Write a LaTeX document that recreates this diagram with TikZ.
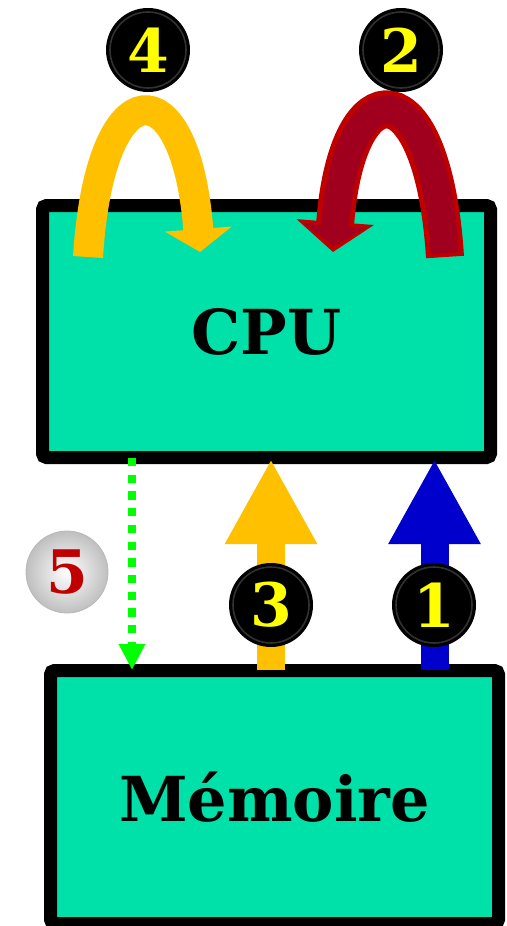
\documentclass[tikz,border=0pt]{standalone}
\usepackage{fontspec}
\setmainfont{DejaVu Serif}
\usetikzlibrary{arrows.meta}
\definecolor{boxteal}{HTML}{00E1A9}
\definecolor{amber}{HTML}{FFC000}
\definecolor{wine}{HTML}{A0001E}
\definecolor{scarlet}{HTML}{C00000}
\definecolor{royal}{HTML}{0000CC}
\definecolor{lime}{HTML}{00FF00}
\definecolor{digit}{HTML}{FFFF00}

\begin{document}
\begin{tikzpicture}[x=1pt,y=-1pt,
  unit/.style={draw=black, fill=boxteal, line width=13pt, rounded corners=4pt,
    minimum width=448pt, inner sep=0pt,
    font=\bfseries\fontsize{62}{62}\selectfont},
  bus/.style={line width=28pt, -{Triangle[length=85pt,width=86pt]}},
  badge/.style={circle, fill=black, minimum size=84pt, inner sep=0pt,
    text=digit, font=\bfseries\fontsize{60}{60}\selectfont,
    path picture={\draw[black!72!white, line width=1.6pt, opacity=0.7]
      (path picture bounding box.center) circle (38pt);}},
  silverbadge/.style={circle, inner color=white, outer color=gray!50,
    draw=gray!55, line width=0.8pt, minimum size=82pt, inner sep=0pt,
    text=scarlet, font=\bfseries\fontsize{60}{60}\selectfont},
]
\useasboundingbox (0,0) rectangle (506,926);
\clip (0,0) rectangle (506,926);

% processor and memory units
\node[unit, minimum height=252pt] (cpu) at (266.5,331.5) {CPU};
\node[unit, minimum height=253pt] (mem) at (274.5,797) {Mémoire};

% endpoints of the transfers between the units
\coordinate (d5) at (132,458);
\coordinate (m5) at (132,670);
\coordinate (s3) at (271,670);
\coordinate (e3) at (271,459);
\coordinate (s1) at (434.5,670);
\coordinate (e1) at (434.5,459);

% loops on top of the processor
\coordinate (s4) at (88,257);
\coordinate (e4) at (200,252);
\coordinate (s2) at (445,257);
\coordinate (e2) at (333,252);

% write back to memory (dotted)
\draw[lime, line width=8pt, dash pattern=on 8.3pt off 8.4pt,
  -{Triangle[length=26pt,width=25pt]}] (d5) -- (m5);

% reads from memory
\draw[bus, amber] (s3) -- (e3);
\draw[bus, royal] (s1) -- (e1);

% internal loop 4
\draw[amber, line width=30pt, -{Triangle[length=23pt,width=66pt]}]
  (s4) .. controls (100,66) and (186,66) .. (e4);

% internal loop 2 (outlined)
\draw[scarlet, line width=38pt, -{Triangle[length=30pt,width=76pt]}]
  (s2) .. controls (433,66) and (347,66) .. (e2);
\draw[wine, line width=28pt, shorten <=4pt, shorten >=6pt,
  -{Triangle[length=20pt,width=60pt]}]
  (s2) .. controls (433,66) and (347,66) .. (e2);

% step badges
\node[badge] (b4) at (148,50) {4};
\node[badge] (b2) at (401,50) {2};
\node[badge] (b3) at (271,605) {3};
\node[badge] (b1) at (434,605) {1};
\node[silverbadge] (b5) at (67,572) {5};
\end{tikzpicture}
\end{document}
